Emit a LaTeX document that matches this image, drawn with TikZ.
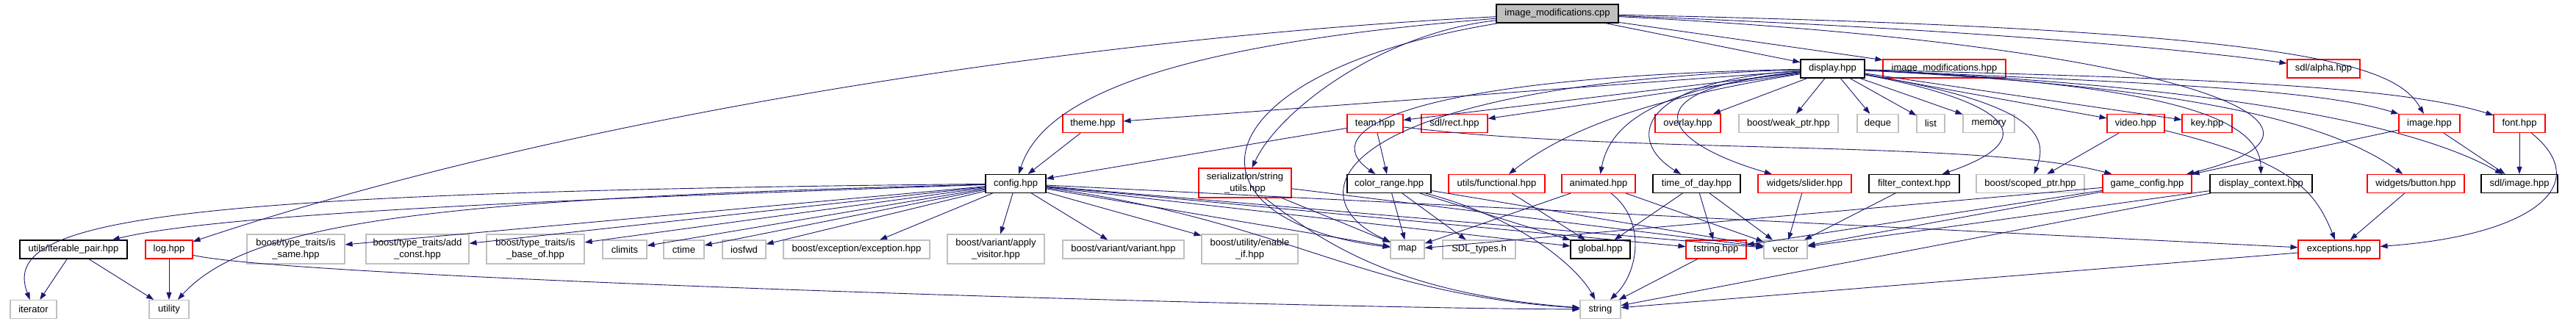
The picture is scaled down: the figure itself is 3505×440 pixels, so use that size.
\documentclass[tikz,border=0pt]{standalone}
\usepackage{fontspec}
\setmainfont{Liberation Sans}
\usetikzlibrary{arrows.meta}
\definecolor{edgeblue}{HTML}{191970}
\definecolor{boxgray}{HTML}{BFBFBF}
\begin{document}
\begin{tikzpicture}[x=1pt, y=-1pt, >={Triangle[length=10pt,width=7pt]},
    font=\fontsize{13}{15.5}\selectfont,
    box/.style={draw, line width=1.1pt, minimum height=25pt, inner sep=0pt, align=center},
    docbox/.style={box, draw=black},
    redbox/.style={box, draw=red},
    sysbox/.style={box, draw=boxgray},
    tallbox/.style={minimum height=40pt},
    dep/.style={->, draw=edgeblue, line width=0.9pt}]
    \useasboundingbox (0,0) rectangle (3505,440);

    % top file
    \node[box, fill=boxgray, draw=black, minimum width=166pt] (imgcpp) at (2119,18.5) {image\_modifications.cpp};

    % second row
    \node[docbox, minimum width=87pt] (display) at (2493.5,93.5) {display.hpp};
    \node[redbox, minimum width=167pt] (imgmodhpp) at (2645.5,93.5) {image\_modifications.hpp};
    \node[redbox, minimum width=99pt] (sdlalpha) at (3161.5,93.5) {sdl/alpha.hpp};

    % third row
    \node[redbox, minimum width=82pt] (theme) at (1487,168) {theme.hpp};
    \node[redbox, minimum width=76pt] (team) at (1871,168) {team.hpp};
    \node[redbox, minimum width=90pt] (sdlrect) at (1979,168) {sdl/rect.hpp};
    \node[redbox, minimum width=89pt] (overlay) at (2296.5,168) {overlay.hpp};
    \node[sysbox, minimum width=135pt] (weakptr) at (2433.5,168) {boost/weak\_ptr.hpp};
    \node[sysbox, minimum width=56pt] (deque) at (2555,168) {deque};
    \node[sysbox, minimum width=38pt] (list) at (2627,168) {list};
    \node[sysbox, minimum width=70pt] (memory) at (2706,168) {memory};
    \node[redbox, minimum width=78pt] (video) at (2906,168) {video.hpp};
    \node[redbox, minimum width=68pt] (key) at (3003,168) {key.hpp};
    \node[redbox, minimum width=83pt] (image) at (3305.5,168) {image.hpp};
    \node[redbox, minimum width=70pt] (font) at (3428,168) {font.hpp};

    % fourth row
    \node[docbox, minimum width=82pt] (config) at (1382,250) {config.hpp};
    \node[redbox, tallbox, minimum width=126pt] (strutils) at (1694,249) {serialization/string\\\_utils.hpp};
    \node[docbox, minimum width=114pt] (colorrange) at (1890,250) {color\_range.hpp};
    \node[redbox, minimum width=131pt] (functional) at (2036.5,250) {utils/functional.hpp};
    \node[redbox, minimum width=100pt] (animated) at (2175,250) {animated.hpp};
    \node[docbox, minimum width=119pt] (tod) at (2308.5,250) {time\_of\_day.hpp};
    \node[redbox, minimum width=127pt] (slider) at (2455.5,250) {widgets/slider.hpp};
    \node[docbox, minimum width=123pt] (filterctx) at (2604.5,250) {filter\_context.hpp};
    \node[sysbox, minimum width=147pt] (scopedptr) at (2762.5,250) {boost/scoped\_ptr.hpp};
    \node[redbox, minimum width=121pt] (gameconfig) at (2921.5,250) {game\_config.hpp};
    \node[docbox, minimum width=139pt] (dispctx) at (3076.5,250) {display\_context.hpp};
    \node[redbox, minimum width=132pt] (button) at (3287,250) {widgets/button.hpp};
    \node[docbox, minimum width=104pt] (sdlimage) at (3428,250) {sdl/image.hpp};

    % fifth row
    \node[docbox, minimum width=146pt] (iterpair) at (100,339.5) {utils/iterable\_pair.hpp};
    \node[redbox, minimum width=64pt] (log) at (230,339.5) {log.hpp};
    \node[sysbox, tallbox, minimum width=133pt] (issame) at (402.5,339) {boost/type\_traits/is\\\_same.hpp};
    \node[sysbox, tallbox, minimum width=140pt] (addconst) at (568,339) {boost/type\_traits/add\\\_const.hpp};
    \node[sysbox, tallbox, minimum width=133pt] (isbaseof) at (728.5,339) {boost/type\_traits/is\\\_base\_of.hpp};
    \node[sysbox, minimum width=60pt] (climits) at (850,339.5) {climits};
    \node[sysbox, minimum width=55pt] (ctime) at (930.5,339.5) {ctime};
    \node[sysbox, minimum width=59pt] (iosfwd) at (1012.5,339.5) {iosfwd};
    \node[sysbox, minimum width=199pt] (boostexc) at (1165.5,339.5) {boost/exception/exception.hpp};
    \node[sysbox, tallbox, minimum width=132pt] (applyvis) at (1355,339) {boost/variant/apply\\\_visitor.hpp};
    \node[sysbox, minimum width=165pt] (variant) at (1528.5,339.5) {boost/variant/variant.hpp};
    \node[sysbox, tallbox, minimum width=131pt] (enableif) at (1700.5,339) {boost/utility/enable\\\_if.hpp};
    \node[sysbox, minimum width=46pt] (map) at (1915,339.5) {map};
    \node[sysbox, minimum width=99pt] (sdltypes) at (2012.5,339.5) {SDL\_types.h};
    \node[docbox, minimum width=81pt] (global) at (2177.5,339.5) {global.hpp};
    \node[redbox, minimum width=82pt] (tstring) at (2335,339.5) {tstring.hpp};
    \node[sysbox, minimum width=59pt] (vector) at (2429.5,339.5) {vector};
    \node[redbox, minimum width=111pt] (exceptions) at (3182.5,339.5) {exceptions.hpp};

    % bottom row
    \node[sysbox, minimum width=63pt] (iterator) at (45.5,421) {iterator};
    \node[sysbox, minimum width=54pt] (utility) at (230,421) {utility};
    \node[sysbox, minimum width=55pt] (string) at (2177.5,421) {string};

    % includes of the top file
    \draw[dep] (imgcpp) -- (display);
    \draw[dep] (imgcpp) -- (imgmodhpp);
    \draw[dep] (imgcpp) .. controls (2700,40) and (3000,70) .. (sdlalpha);
    \draw[dep] (imgcpp) .. controls (3150,40) and (3260,90) .. (image);
    \draw[dep] (imgcpp) .. controls (2950,60) and (3250,170) .. (gameconfig);
    \draw[dep] (imgcpp) .. controls (1600,60) and (1420,130) .. (config);
    \draw[dep] (imgcpp) .. controls (1500,50) and (800,150) .. (log);
    \draw[dep] (imgcpp) .. controls (1880,45) and (1740,150) .. (strutils);
    \draw[dep] (imgcpp) .. controls (1620,100) and (1600,300) .. (map);

    % display.hpp
    \draw[dep] (display) -- (theme);
    \draw[dep] (display) -- (team);
    \draw[dep] (display) -- (sdlrect);
    \draw[dep] (display) .. controls (1900,105) and (1790,180) .. (colorrange);
    \draw[dep] (display) .. controls (1800,115) and (1760,270) .. (map);
    \draw[dep] (display) -- (overlay);
    \draw[dep] (display) -- (weakptr);
    \draw[dep] (display) -- (deque);
    \draw[dep] (display) -- (list);
    \draw[dep] (display) -- (memory);
    \draw[dep] (display) .. controls (2300,125) and (2150,160) .. (functional);
    \draw[dep] (display) .. controls (2250,120) and (2190,170) .. (animated);
    \draw[dep] (display) .. controls (2230,110) and (2210,190) .. (tod);
    \draw[dep] (display) .. controls (2220,120) and (2250,190) .. (slider);
    \draw[dep] (display) .. controls (2740,140) and (2780,190) .. (filterctx);
    \draw[dep] (display) .. controls (2760,140) and (2790,180) .. (scopedptr);
    \draw[dep] (display) -- (video);
    \draw[dep] (display) -- (key);
    \draw[dep] (display) .. controls (2900,112) and (3150,120) .. (image);
    \draw[dep] (display) .. controls (2900,105) and (3250,112) .. (font);
    \draw[dep] (display) .. controls (2950,115) and (3075,160) .. (dispctx);
    \draw[dep] (display) .. controls (2900,115) and (3150,150) .. (button);
    \draw[dep] (display) .. controls (2900,112) and (3250,150) .. (sdlimage);

    % config.hpp
    \draw[dep] (config) .. controls (200,262) and (0,300) .. (iterator);
    \draw[dep] (config) .. controls (800,270) and (300,290) .. (iterpair);
    \draw[dep] (config) .. controls (600,270) and (340,300) .. (utility);
    \draw[dep] (config) -- (issame);
    \draw[dep] (config) -- (addconst);
    \draw[dep] (config) -- (isbaseof);
    \draw[dep] (config) -- (climits);
    \draw[dep] (config) -- (ctime);
    \draw[dep] (config) -- (iosfwd);
    \draw[dep] (config) -- (boostexc);
    \draw[dep] (config) -- (applyvis);
    \draw[dep] (config) -- (variant);
    \draw[dep] (config) -- (enableif);
    \draw[dep] (config) -- (map);
    \draw[dep] (config) .. controls (1750,300) and (1850,400) .. (string);
    \draw[dep] (config) -- (global);
    \draw[dep] (config) -- (tstring);
    \draw[dep] (config) -- (vector);
    \draw[dep] (config) -- (exceptions);

    \draw[dep] (theme) -- (config);
    \draw[dep] (team) -- (config);
    \draw[dep] (team) -- (colorrange);
    \draw[dep] (team) .. controls (2200,210) and (2700,190) .. (gameconfig);

    \draw[dep] (strutils) -- (map);
    \draw[dep] (strutils) .. controls (1800,330) and (1900,400) .. (string);
    \draw[dep] (strutils) -- (vector);

    \draw[dep] (colorrange) -- (map);
    \draw[dep] (colorrange) -- (sdltypes);
    \draw[dep] (colorrange) -- (global);
    \draw[dep] (colorrange) .. controls (2080,300) and (2150,370) .. (string);
    \draw[dep] (colorrange) -- (vector);

    \draw[dep] (functional) -- (global);
    \draw[dep] (animated) -- (map);
    \draw[dep] (animated) .. controls (2240,300) and (2230,370) .. (string);
    \draw[dep] (animated) -- (vector);
    \draw[dep] (tod) -- (global);
    \draw[dep] (tod) -- (tstring);
    \draw[dep] (tod) -- (vector);
    \draw[dep] (slider) -- (vector);
    \draw[dep] (filterctx) -- (vector);

    \draw[dep] (video) -- (scopedptr);
    \draw[dep] (video) .. controls (3120,220) and (3150,260) .. (exceptions);
    \draw[dep] (image) -- (gameconfig);
    \draw[dep] (image) -- (sdlimage);
    \draw[dep] (font) -- (sdlimage);
    \draw[dep] (font) .. controls (3530,250) and (3450,320) .. (exceptions);
    \draw[dep] (button) -- (exceptions);

    \draw[dep] (gameconfig) -- (tstring);
    \draw[dep] (gameconfig) -- (vector);
    \draw[dep] (gameconfig) -- (map);
    \draw[dep] (dispctx) -- (vector);
    \draw[dep] (dispctx) -- (string);

    \draw[dep] (tstring) -- (string);
    \draw[dep] (exceptions) -- (string);
    \draw[dep] (log) -- (utility);
    \draw[dep] (log) .. controls (400,380) and (1800,420) .. (string);
    \draw[dep] (iterpair) -- (iterator);
    \draw[dep] (iterpair) -- (utility);
\end{tikzpicture}
\end{document}
